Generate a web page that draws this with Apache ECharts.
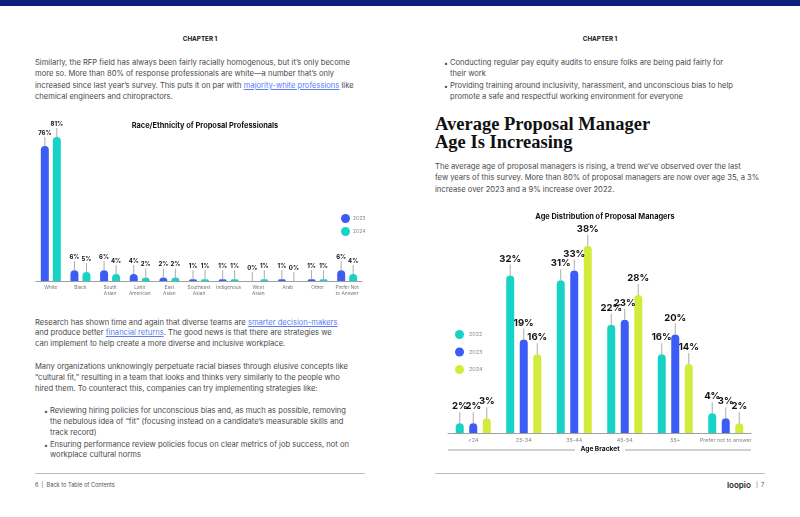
<!DOCTYPE html>
<html>
<head>
<meta charset="utf-8">
<script src="https://cdn.jsdelivr.net/npm/echarts@6/dist/echarts.min.js"></script>
<style>
  html, body { margin: 0; padding: 0; background: #fff; }
  #page { position: relative; width: 800px; height: 517px; overflow: hidden; font-family: Inter, "Noto Sans", sans-serif; color: #4a4a4a; }
  .bar { position: absolute; left: 0; top: 0; width: 800px; height: 6px; background: #0c1f7d; }
  .ln { position: absolute; white-space: nowrap; font-size: 7.6px; line-height: 10px; transform: translateY(-50%); }
  .ln a { color: #5b7cf5; text-decoration: underline; }
  .ch { position: absolute; font-size: 6.3px; font-weight: 700; color: #111; transform: translate(-50%, -50%); }
  .hd { position: absolute; left: 435px; font-family: "Liberation Serif", serif; font-weight: 700; font-size: 18.5px; color: #111; white-space: nowrap; line-height: 18px; }
  .rule { position: absolute; height: 1px; background: #bdbdbd; top: 473px; }
  .ft { position: absolute; font-size: 5.6px; color: #555; top: 485px; transform: translateY(-50%); white-space: nowrap; }
  .dot { position: absolute; font-size: 7px; transform: translateY(-50%); }
  #raceChart { position: absolute; left: 0; top: 110px; width: 400px; height: 200px; }
  #ageChart { position: absolute; left: 400px; top: 200px; width: 400px; height: 260px; }
</style>
</head>
<body>
<div id="page">
  <div class="bar"></div>
  <div class="ch" style="left:200px; top:39px;">CHAPTER 1</div>
  <div class="ch" style="left:600px; top:39px;">CHAPTER 1</div>

  <div class="ln" style="left:35px; top:63px;">Similarly, the RFP field has always been fairly racially homogenous, but it’s only become</div>
  <div class="ln" style="left:35px; top:74px;">more so. More than 80% of response professionals are white—a number that’s only</div>
  <div class="ln" style="left:35px; top:86px;">increased since last year’s survey. This puts it on par with <a>majority-white professions</a> like</div>
  <div class="ln" style="left:35px; top:97px;">chemical engineers and chiropractors.</div>

  <div class="dot" style="left:444px; top:63px;">•</div>
  <div class="ln" style="left:450px; top:63px;">Conducting regular pay equity audits to ensure folks are being paid fairly for</div>
  <div class="ln" style="left:450px; top:74px;">their work</div>
  <div class="dot" style="left:444px; top:86px;">•</div>
  <div class="ln" style="left:450px; top:86px;">Providing training around inclusivity, harassment, and unconscious bias to help</div>
  <div class="ln" style="left:450px; top:97px;">promote a safe and respectful working environment for everyone</div>

  <div class="hd" style="top:115px;">Average Proposal Manager</div>
  <div class="hd" style="top:133px;">Age Is Increasing</div>

  <div class="ln" style="left:435px; top:167px;">The average age of proposal managers is rising, a trend we’ve observed over the last</div>
  <div class="ln" style="left:435px; top:178px;">few years of this survey. More than 80% of proposal managers are now over age 35, a 3%</div>
  <div class="ln" style="left:435px; top:190px;">increase over 2023 and a 9% increase over 2022.</div>

  <div class="ln" style="left:35px; top:323px;">Research has shown time and again that diverse teams are <a>smarter decision-makers</a></div>
  <div class="ln" style="left:35px; top:333px;">and produce better <a>financial returns</a>. The good news is that there are strategies we</div>
  <div class="ln" style="left:35px; top:344px;">can implement to help create a more diverse and inclusive workplace.</div>
  <div class="ln" style="left:35px; top:367px;">Many organizations unknowingly perpetuate racial biases through elusive concepts like</div>
  <div class="ln" style="left:35px; top:378px;">“cultural fit,” resulting in a team that looks and thinks very similarly to the people who</div>
  <div class="ln" style="left:35px; top:389px;">hired them. To counteract this, companies can try implementing strategies like:</div>
  <div class="dot" style="left:44px; top:411px;">•</div>
  <div class="ln" style="left:50px; top:411px;">Reviewing hiring policies for unconscious bias and, as much as possible, removing</div>
  <div class="ln" style="left:50px; top:422px;">the nebulous idea of “fit” (focusing instead on a candidate’s measurable skills and</div>
  <div class="ln" style="left:50px; top:433px;">track record)</div>
  <div class="dot" style="left:44px; top:445px;">•</div>
  <div class="ln" style="left:50px; top:445px;">Ensuring performance review policies focus on clear metrics of job success, not on</div>
  <div class="ln" style="left:50px; top:455px;">workplace cultural norms</div>

  <div class="rule" style="left:35px; width:330px;"></div>
  <div class="rule" style="left:435px; width:330px;"></div>
  <div class="ft" style="left:35px;">6&nbsp;&nbsp;|&nbsp;&nbsp;Back to Table of Contents</div>
  <div class="ft" style="left:727px; font-size:8px; font-weight:600; color:#222;">loopio</div>
  <div class="ft" style="left:756px;">|&nbsp;&nbsp;7</div>

  <div id="raceChart"></div>
  <div id="ageChart"></div>
</div>
<script>
// race / ethnicity chart
var raceCategories = ['White', 'Black', 'South\nAsian', 'Latin\nAmerican', 'East\nAsian', 'Southeast\nAsian', 'Indigenous', 'West\nAsian', 'Arab', 'Other', 'Prefer Not\nto Answer']
var race2023 = [76, 6, 6, 4, 2, 1, 1, 0, 1, 1, 6]
var race2024 = [81, 5, 4, 2, 2, 1, 1, 1, 0, 1, 4]

// age chart
var ageCategories = ['<24', '25-34', '35-44', '45-54', '55+', 'Prefer not to answer']
var age2022 = [2, 32, 31, 22, 16, 4]
var age2023 = [2, 19, 33, 23, 20, 3]
var age2024 = [3, 16, 38, 28, 14, 2]

var BLUE = '#3b5cf5'
var TEAL = '#17d3c6'
var LIME = '#d3ec3b'
var FONT = 'Inter'

function barLabel(size, lineH) {
  return {
    show: true,
    position: 'top',
    distance: 0,
    formatter: function (p) { return '{v|' + p.value + '%}\n{l|}' },
    rich: {
      v: { fontSize: size, fontWeight: 'bold', color: '#111', fontFamily: FONT, lineHeight: size + 2 },
      l: { width: 1, height: lineH, backgroundColor: '#ababab' }
    }
  }
}

var raceChart = echarts.init(document.getElementById('raceChart'))
raceChart.setOption({
  animation: false,
  title: {
    text: 'Race/Ethnicity of Proposal Professionals',
    left: 200, top: 7, textAlign: 'center',
    textStyle: { fontSize: 7.4, fontWeight: 'bold', color: '#111', fontFamily: FONT }
  },
  legend: {
    orient: 'vertical', left: 336, top: 99,
    icon: 'circle', itemWidth: 9, itemHeight: 9, itemGap: 4,
    textStyle: { fontSize: 5, color: '#888', fontFamily: FONT, padding: [0, 0, 0, -2] },
    data: ['2023', '2024']
  },
  grid: { left: 36, right: 38, top: 20, bottom: 29 },
  xAxis: {
    type: 'category', data: raceCategories,
    axisLine: { lineStyle: { color: '#a0a0a0', width: 1 } },
    axisTick: { show: false },
    axisLabel: { fontSize: 4.8, color: '#777', fontFamily: FONT, lineHeight: 5.5, margin: 4, interval: 0 }
  },
  yAxis: { type: 'value', min: 0, max: 85, show: false },
  series: [
    { name: '2023', type: 'bar', data: race2023, barWidth: 8, barGap: '50%', itemStyle: { color: BLUE, borderRadius: [4, 4, 0, 0] }, label: barLabel(6, 9) },
    { name: '2024', type: 'bar', data: race2024, barWidth: 8, itemStyle: { color: TEAL, borderRadius: [4, 4, 0, 0] }, label: barLabel(6, 9) }
  ]
})

var ageChart = echarts.init(document.getElementById('ageChart'))
ageChart.setOption({
  animation: false,
  title: {
    text: 'Age Distribution of Proposal Managers',
    left: 200, top: 8, textAlign: 'center',
    textStyle: { fontSize: 7.4, fontWeight: 'bold', color: '#111', fontFamily: FONT }
  },
  legend: {
    orient: 'vertical', left: 50, top: 125,
    icon: 'circle', itemWidth: 9, itemHeight: 9, itemGap: 8.5,
    textStyle: { fontSize: 5.4, color: '#888', fontFamily: FONT },
    data: ['2022', '2023', '2024']
  },
  grid: { left: 48, right: 49, top: 36, bottom: 27 },
  xAxis: {
    type: 'category', data: ageCategories,
    axisLine: { lineStyle: { color: '#a0a0a0', width: 1 } },
    axisTick: { show: false },
    axisLabel: { fontSize: 5.4, color: '#888', fontFamily: FONT, margin: 5, interval: 0 }
  },
  yAxis: { type: 'value', min: 0, max: 40, show: false },
  graphic: [
    { type: 'line', shape: { x1: 48, y1: 250, x2: 175, y2: 250 }, style: { stroke: '#a0a0a0', lineWidth: 1 } },
    { type: 'line', shape: { x1: 225, y1: 250, x2: 351, y2: 250 }, style: { stroke: '#a0a0a0', lineWidth: 1 } },
    { type: 'text', left: 'center', top: 246, style: { text: 'Age Bracket', fontSize: 6.6, fontWeight: 'bold', fill: '#111', fontFamily: FONT } }
  ],
  series: [
    { name: '2022', type: 'bar', data: age2022, barWidth: 8, barGap: '69%', itemStyle: { color: TEAL, borderRadius: [4, 4, 0, 0] }, label: barLabel(9.5, 11) },
    { name: '2023', type: 'bar', data: age2023, barWidth: 8, itemStyle: { color: BLUE, borderRadius: [4, 4, 0, 0] }, label: barLabel(9.5, 11) },
    { name: '2024', type: 'bar', data: age2024, barWidth: 8, itemStyle: { color: LIME, borderRadius: [4, 4, 0, 0] }, label: barLabel(9.5, 11) }
  ]
})
</script>
</body>
</html>
